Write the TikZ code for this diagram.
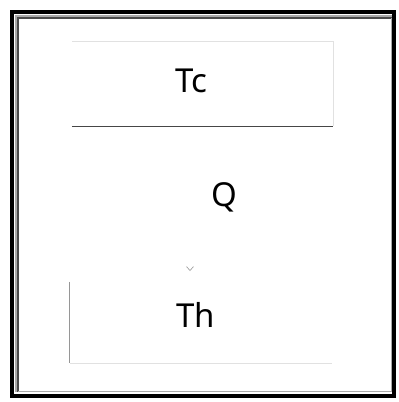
\documentclass[tikz,border=0pt]{standalone}
\usepackage{fontspec}
\setmainfont{Noto Sans}
\usepackage{xcolor}
\usetikzlibrary{arrows.meta, positioning}
\definecolor{EdgeDark}{RGB}{70,70,70}
\definecolor{EdgeLight}{RGB}{225,225,225}
\definecolor{EdgeMid}{RGB}{150,150,150}
\definecolor{FrameGray}{RGB}{170,170,170}

\begin{document}
\begin{tikzpicture}[x=1pt, y=-1pt,
  bigtext/.style={font=\fontsize{33}{40}\selectfont, inner sep=0pt, anchor=base},
  plate/.style={draw=none, rectangle, inner sep=0pt}]
\useasboundingbox (0,0) rectangle (399,402);

% Outer frame
\draw[black, line width=4pt] (12,12) rectangle (393.5,395.5);
\draw[FrameGray, line width=2pt] (15.5,392) |- (392,15.5);
\draw[black!70, line width=1.5pt] (18,391.5) |- (391.5,18);
\draw[FrameGray, line width=0.8pt] (18,391) -| (391,18);

% Cold plate
\node[plate, minimum width=261pt, minimum height=84pt] (tcbox) at (202.5,84) {};
\draw[EdgeLight, line width=0.8pt] (tcbox.north west) -- (tcbox.north east) -- (tcbox.south east);
\draw[EdgeDark, line width=1.2pt] (tcbox.south west) -- (tcbox.south east);
\node[bigtext] (tc) at (191.5,92) {Tc};

% Hot plate
\node[plate, minimum width=262pt, minimum height=81pt] (thbox) at (201,322.5) {};
\draw[EdgeMid, line width=0.9pt] (thbox.north west) -- (thbox.south west);
\draw[EdgeLight, line width=0.8pt] (thbox.south west) -- (thbox.south east);
\node[bigtext] (th) at (196,327) {Th};

% Heat flow
\node[bigtext] (q) at (224.5,206) {Q};
\coordinate (flowtip) at (190,271);
\draw[white, line width=0.6pt, -{Straight Barb[EdgeMid, length=4pt, width=7pt]}]
  ([yshift=-3pt]tcbox.south -| flowtip) -- (flowtip);

\end{tikzpicture}
\end{document}
